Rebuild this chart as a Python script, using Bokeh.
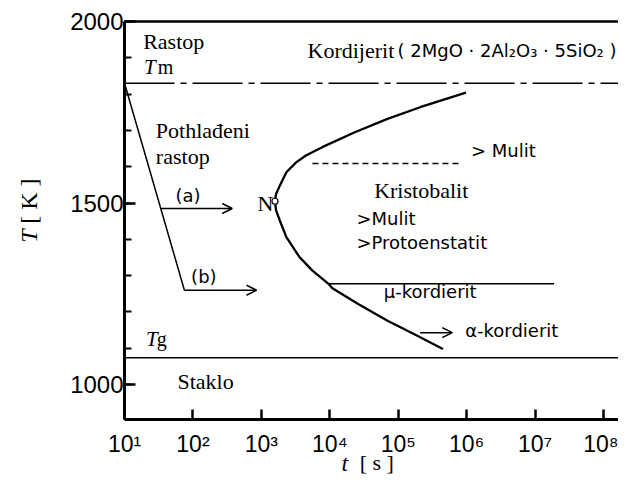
import numpy as np
from bokeh.plotting import figure
from bokeh.models import (FixedTicker, LogAxis, LinearAxis, Label, Arrow, OpenHead,
                          Range1d, LogScale)
from bokeh.embed import file_html
from bokeh.resources import INLINE

# ---------------- data ----------------
x_ticks = [1e1, 1e2, 1e3, 1e4, 1e5, 1e6, 1e7, 1e8]
x_tick_labels = ["10¹", "10²", "10³", "10⁴", "10⁵", "10⁶", "10⁷", "10⁸"]
y_ticks = [1000, 1500, 2000]
y_tick_labels = ["1000", "1500", "2000"]
y_minor_ticks = [1000, 1100, 1200, 1300, 1400, 1500, 1600, 1700, 1800, 1900, 2000]

t_min, t_max = 10, 10 ** 8.22      # axis extent of time
T_min, T_max = 904, 2000           # axis extent of temperature

T_melt = 1830          # Tm
T_glass = 1074         # Tg

cool_t = [10, 75]      # cooling path from Tm
cool_T = [1830, 1260]

path_a_t = [34, 375]
path_a_T = [1485, 1485]
path_b_t = [75, 850]
path_b_T = [1260, 1260]

# C-curve (upper end -> nose -> lower end)
curve_t = [977000, 209000, 69800, 23200, 7760, 4480, 3220, 2320, 1860, 1640, 1580,
           1640, 1860, 2320, 3610, 5580, 9680, 10800, 26000, 69800, 187000, 451000]
curve_T = [1804, 1764, 1732, 1695, 1654, 1631, 1612, 1585, 1548, 1525, 1505,
           1480, 1452, 1406, 1351, 1314, 1277, 1266, 1222, 1176, 1135, 1098]

nose_t = [1580]
nose_T = [1505]

mulit_t = [5580, 863000]
mulit_T = [1609, 1609]

mu_t = [9460, 1.9e7]
mu_T = [1278, 1278]

alpha_t = [209000, 617000]
alpha_T = [1143, 1143]

# ---------------- figure ----------------
# the frame covers the whole canvas; axes are placed with fixed_location
p = figure(width=618, height=475, x_axis_type=None, y_axis_type=None,
           x_range=Range1d(10 ** -0.813, t_max), y_range=Range1d(749.7, 2057.9),
           output_backend="svg", toolbar_location=None,
           min_border_left=0, min_border_right=0, min_border_top=0, min_border_bottom=0)
p.x_scale = LogScale()
p.grid.visible = False
p.outline_line_color = None
p.background_fill_color = "white"
p.border_fill_color = "white"

TICK_FONT = "Liberation Sans"
SERIF = "Liberation Serif"
SANS = "DejaVu Sans"

xa = LogAxis(ticker=FixedTicker(ticks=x_ticks, minor_ticks=[]),
             fixed_location=T_min, bounds=(t_min, t_max))
xa.major_label_overrides = {t: l for t, l in zip(x_ticks, x_tick_labels)}
xa.major_tick_in = 10
xa.major_tick_out = 0
xa.major_tick_line_width = 2.5
xa.axis_line_width = 3
xa.major_label_text_font = TICK_FONT
xa.major_label_text_font_size = "23px"
xa.major_label_text_color = "black"
xa.major_label_standoff = 12
p.add_layout(xa, "below")

ya = LinearAxis(ticker=FixedTicker(ticks=y_ticks, minor_ticks=y_minor_ticks),
                fixed_location=t_min, bounds=(T_min, T_max))
ya.major_label_overrides = {t: l for t, l in zip(y_ticks, y_tick_labels)}
ya.major_tick_in = 11
ya.major_tick_out = 0
ya.minor_tick_in = 7
ya.minor_tick_out = 0
ya.major_tick_line_width = 2.5
ya.minor_tick_line_width = 2
ya.axis_line_width = 3
ya.major_label_text_font = TICK_FONT
ya.major_label_text_font_size = "24px"
ya.major_label_text_color = "black"
ya.major_label_standoff = 1
p.add_layout(ya, "left")

top = LogAxis(ticker=FixedTicker(ticks=[], minor_ticks=[]), axis_line_width=2.5,
              fixed_location=T_max, bounds=(t_min, t_max),
              major_tick_out=0, major_tick_in=0, minor_tick_out=0, minor_tick_in=0,
              major_label_text_font_size="0px", major_label_standoff=0)
p.add_layout(top, "above")

# reference lines Tm (dash-dot) and Tg
p.segment(x0=[t_min], x1=[t_max], y0=[T_melt], y1=[T_melt],
          line_color="black", line_width=1.5, line_dash="50 6 6 6")
p.segment(x0=[t_min], x1=[t_max], y0=[T_glass], y1=[T_glass],
          line_color="black", line_width=1.5)

# cooling path
p.line(cool_t, cool_T, line_color="black", line_width=1.5)
# isothermal arrows
for tt, TT in [(path_a_t, path_a_T), (path_b_t, path_b_T), (alpha_t, alpha_T)]:
    p.add_layout(Arrow(end=OpenHead(size=10, line_width=1.5, line_color="black"),
                       x_start=tt[0], y_start=TT[0], x_end=tt[1], y_end=TT[1],
                       line_width=1.5, line_color="black"))
# C-curve
p.line(curve_t, curve_T, line_color="black", line_width=2.3)
p.scatter(nose_t, nose_T, size=6, fill_color="white", line_color="black", line_width=1.2)
# Mulit dashed
p.line(mulit_t, mulit_T, line_color="black", line_width=1.3, line_dash="6 4")
# mu-kordierit line
p.line(mu_t, mu_T, line_color="black", line_width=1.5)

# ---------------- texts ----------------
DY = 19  # baseline correction (K)

def lab(x, y, text, font=SERIF, size="22px", style="normal", align="left", angle=0.0):
    p.add_layout(Label(x=x, y=y, text=text, text_font=font, text_font_size=size,
                       text_font_style=style, text_align=align,
                       text_baseline="alphabetic", text_color="black", angle=angle))

lab(18.7, 1926 + DY, "Rastop")
lab(19.3, 1857 + DY, "T", size="21px", style="italic")
lab(30.6, 1857 + DY, "m", size="20px")
lab(4730, 1901 + DY, "Kordijerit")
lab(97700, 1901 + DY, "( 2MgO · 2Al₂O₃ · 5SiO₂ )", font=SANS, size="18px")
lab(28.7, 1680 + DY, "Pothlađeni")
lab(28.7, 1609 + DY, "rastop")
lab(55.5, 1501 + DY, "(a)", font=SANS, size="18px")
lab(94, 1278 + DY, "(b)", font=SANS, size="18px")
lab(1496, 1479 + DY, "N", align="right")
lab(1.16e6, 1625 + DY, "> Mulit", font=SANS, size="18px")
lab(44500, 1515 + DY, "Kristobalit")
lab(24500, 1438 + DY, ">Mulit", font=SANS, size="18px")
lab(24500, 1372 + DY, ">Protoenstatit", font=SANS, size="18px")
lab(61700, 1237 + DY, "μ-kordierit", font=SANS, size="18px")
lab(953000, 1129 + DY, "α-kordierit", font=SANS, size="18px")
lab(20.6, 1107 + DY, "T", size="21px", style="italic")
lab(29.6, 1107 + DY, "g", size="20px")
lab(59.3, 989 + DY, "Staklo")

# axis titles
lab(0.408, 1391, "T", size="24px", style="italic", angle=np.pi / 2)
lab(0.408, 1443, "[ K ]", size="24px", angle=np.pi / 2)
lab(14800, 766 + DY, "t", size="24px", style="italic")
lab(27300, 766 + DY, "[ s ]", size="22px")

open("out.html", "w").write(file_html(p, INLINE))
